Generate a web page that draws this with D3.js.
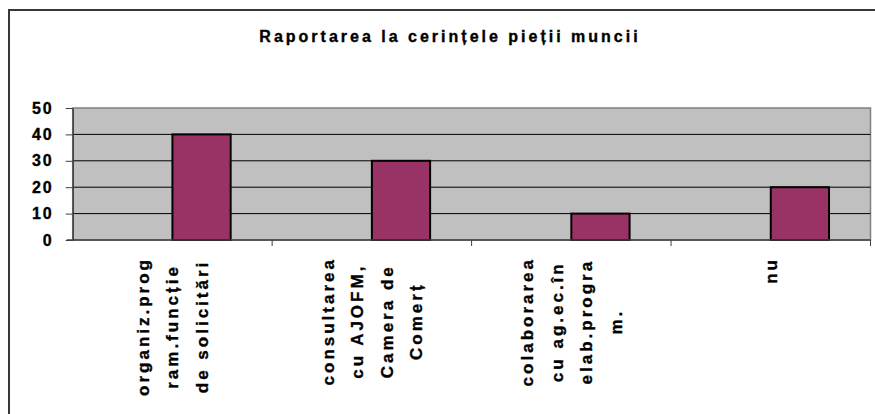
<!DOCTYPE html>
<html>
<head>
<meta charset="utf-8">
<script src="https://cdn.jsdelivr.net/npm/d3@7"></script>
<style>
  body { margin: 0; background: #fff; }
  text { font-family: Arial, "Liberation Sans", sans-serif; font-weight: bold; fill: #000; stroke: #000; stroke-width: 0.35px; }
</style>
</head>
<body>
<div id="chart"></div>
<script>
var categories = ["organiz.program.funcție de solicitări", "consultarea cu AJOFM, Camera de Comerț", "colaborarea cu ag.ec.în elab.program.", "nu"];
var labelLines = [
  ["organiz.prog", "ram.funcție", "de solicitări"],
  ["consultarea", "cu AJOFM,", "Camera de", "Comerț"],
  ["colaborarea", "cu ag.ec.în", "elab.progra", "m."],
  ["nu"]
];
var values = [40, 30, 10, 20];
var yTicks = [0, 10, 20, 30, 40, 50];
var title = "Raportarea la cerințele pieții muncii";

var W = 875, H = 414;
var plot = { left: 72.7, right: 870.5, top: 108, bottom: 240 };

var svg = d3.select("#chart").append("svg")
  .attr("width", W)
  .attr("height", H);

// outer chart border (cut off at right and bottom)
svg.append("rect")
  .attr("x", 9).attr("y", 10)
  .attr("width", 1000).attr("height", 1000)
  .attr("fill", "none")
  .attr("stroke", "#383838")
  .attr("stroke-width", 2);

svg.append("text")
  .attr("x", 450).attr("y", 42)
  .attr("text-anchor", "middle")
  .style("font-size", "16px")
  .style("letter-spacing", "3px")
  .text(title);

var x = d3.scaleBand().domain(categories).range([plot.left, plot.right]);
var y = d3.scaleLinear().domain([0, 50]).range([plot.bottom, plot.top]);

// plot area
svg.append("rect")
  .attr("x", plot.left).attr("y", plot.top)
  .attr("width", plot.right - plot.left).attr("height", plot.bottom - plot.top)
  .attr("fill", "#c0c0c0")
  .attr("stroke", "#808080")
  .attr("stroke-width", 1.5);

// gridlines
svg.append("g").selectAll("line")
  .data(yTicks.filter(function(d) { return d > 0 && d < 50; }))
  .enter().append("line")
    .attr("x1", plot.left).attr("x2", plot.right)
    .attr("y1", function(d) { return y(d); })
    .attr("y2", function(d) { return y(d); })
    .attr("stroke", "#000")
    .attr("stroke-width", 1);

// bars (second slot of each category group)
var bw = x.bandwidth() * 0.292;
svg.append("g").selectAll("rect")
  .data(values)
  .enter().append("rect")
    .attr("x", function(d, i) { return x(categories[i]) + x.bandwidth() / 2; })
    .attr("y", function(d) { return y(d); })
    .attr("width", bw)
    .attr("height", function(d) { return y(0) - y(d); })
    .attr("fill", "#993366")
    .attr("stroke", "#000")
    .attr("stroke-width", 2);

// y axis
var yAxis = svg.append("g")
  .attr("transform", "translate(" + plot.left + ",0)")
  .call(d3.axisLeft(y).tickValues(yTicks).tickSize(7).tickPadding(12).tickSizeOuter(0));
yAxis.select(".domain").attr("stroke", "#404040").attr("stroke-width", 1.5);
yAxis.selectAll(".tick line").attr("stroke", "#404040");
yAxis.selectAll("text")
  .style("font-size", "16px")
  .style("letter-spacing", "2px")
  .attr("font-family", null);

// x axis line and boundary ticks
var bounds = categories.map(function(c) { return x(c); }).concat([plot.right]);
var xAxis = svg.append("g");
xAxis.append("line")
  .attr("x1", plot.left - 6).attr("x2", plot.right)
  .attr("y1", plot.bottom).attr("y2", plot.bottom)
  .attr("stroke", "#404040").attr("stroke-width", 1.5);
xAxis.selectAll("line.tk")
  .data(bounds.slice(1))
  .enter().append("line")
    .attr("class", "tk")
    .attr("x1", function(d) { return d; }).attr("x2", function(d) { return d; })
    .attr("y1", plot.bottom).attr("y2", plot.bottom + 6)
    .attr("stroke", "#404040").attr("stroke-width", 1);

// category labels, rotated, multi-line
var lineGap = 29.5;
var labels = svg.append("g").selectAll("g")
  .data(labelLines)
  .enter().append("g");

labels.each(function(lines, i) {
  var g = d3.select(this);
  var n = lines.length;
  var t = g.selectAll("text")
    .data(lines)
    .enter().append("text")
      .attr("x", 0)
      .attr("y", function(d, j) { return (j - (n - 1) / 2) * lineGap + 6; })
      .attr("text-anchor", "middle")
      .style("font-size", "17px")
      .style("letter-spacing", "3px")
      .text(function(d) { return d; });
  var maxW = 0;
  t.each(function() { maxW = Math.max(maxW, this.getComputedTextLength()); });
  var cx = x(categories[i]) + x.bandwidth() / 2;
  g.attr("transform", "translate(" + cx + "," + (257 + maxW / 2) + ") rotate(-90)");
});
</script>
</body>
</html>
